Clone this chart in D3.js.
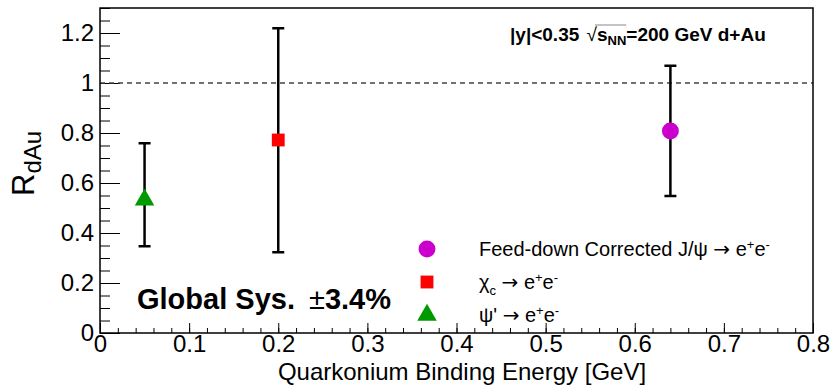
<!DOCTYPE html>
<html>
  <head>
    <meta charset="utf-8">
    <title>RdAu vs binding energy</title>
    <style>
      body { margin: 0; background: #fff; }
      svg { display: block; font-family: "Liberation Sans", Arial, sans-serif; }
      .frame { fill: none; stroke: #000; stroke-width: 1.5; }
      .axis path { display: none; }
      .axis line { stroke: #000; stroke-width: 1; }
      .axis text { font-size: 24px; fill: #000; font-family: "Liberation Sans", Arial, sans-serif; }
      .err { stroke: #000; stroke-width: 2.5; }
      .arr { font-family: "DejaVu Sans", sans-serif; }
    </style>
    <script src="https://cdnjs.cloudflare.com/ajax/libs/d3/7.8.5/d3.min.js"></script>
  </head>
  <body>
    <svg id="chart" width="830" height="388"></svg>
    <script>
      // data
      var names = ["jpsi", "chic", "psip"];
      var energy = [0.64, 0.2, 0.05];
      var rdau = [0.808, 0.772, 0.539];
      var errLow = [0.548, 0.323, 0.347];
      var errHigh = [1.069, 1.219, 0.759];
      var colors = ["#cc00cc", "#ff0000", "#009900"];

      var xTicks = [0, 0.1, 0.2, 0.3, 0.4, 0.5, 0.6, 0.7, 0.8];
      var yTicks = [0, 0.2, 0.4, 0.6, 0.8, 1, 1.2];

      var fLeft = 100, fRight = 813, fTop = 8, fBottom = 333;

      var svg = d3.select("#chart");

      var x = d3.scaleLinear().domain([0, 0.8]).range([fLeft, fRight]);
      var y = d3.scaleLinear().domain([0, 1.3]).range([fBottom, fTop]);

      var fmt = function(d) { return String(+d.toFixed(1)); };

      // minor ticks
      var xMinor = d3.range(0, 41).map(function(i) { return i * 0.02; });
      var yMinor = d3.range(0, 27).map(function(i) { return i * 0.05; });

      svg.append("g").attr("class", "axis")
         .attr("transform", "translate(0," + fBottom + ")")
         .call(d3.axisBottom(x).tickValues(xMinor).tickSizeInner(-5).tickSizeOuter(0).tickFormat(""));
      svg.append("g").attr("class", "axis")
         .attr("transform", "translate(0," + fBottom + ")")
         .call(d3.axisBottom(x).tickValues(xTicks).tickSizeInner(-10).tickSizeOuter(0).tickPadding(2).tickFormat(fmt));

      svg.append("g").attr("class", "axis")
         .attr("transform", "translate(" + fLeft + ",0)")
         .call(d3.axisLeft(y).tickValues(yMinor).tickSizeInner(-10).tickSizeOuter(0).tickFormat(""));
      svg.append("g").attr("class", "axis")
         .attr("transform", "translate(" + fLeft + ",0)")
         .call(d3.axisLeft(y).tickValues(yTicks).tickSizeInner(-20).tickSizeOuter(0).tickPadding(6).tickFormat(fmt));

      // dashed line at unity
      svg.append("line")
         .attr("x1", fLeft).attr("x2", fRight)
         .attr("y1", y(1)).attr("y2", y(1))
         .attr("stroke", "#444").attr("stroke-width", 1.5)
         .attr("stroke-dasharray", "5,4");

      svg.append("rect").attr("class", "frame")
         .attr("x", fLeft).attr("y", fTop)
         .attr("width", fRight - fLeft).attr("height", fBottom - fTop);

      // error bars
      var pts = svg.append("g");
      energy.forEach(function(e, i) {
        pts.append("line").attr("class", "err")
           .attr("x1", x(e)).attr("x2", x(e))
           .attr("y1", y(errLow[i])).attr("y2", y(errHigh[i]));
        [errLow[i], errHigh[i]].forEach(function(v) {
          pts.append("line").attr("class", "err")
             .attr("x1", x(e) - 6).attr("x2", x(e) + 6)
             .attr("y1", y(v)).attr("y2", y(v));
        });
      });

      var sym = {
        jpsi: d3.symbol().type(d3.symbolCircle).size(225),
        chic: d3.symbol().type(d3.symbolSquare).size(165),
        psip: d3.symbol().type(d3.symbolTriangle).size(165)
      };

      energy.forEach(function(e, i) {
        pts.append("path")
           .attr("d", sym[names[i]]())
           .attr("transform", "translate(" + x(e) + "," + (y(rdau[i]) + (names[i] == "psip" ? 1.5 : 0)) + ")")
           .attr("fill", colors[i]);
      });

      // axis titles
      svg.append("text")
         .attr("x", 462).attr("y", 380)
         .attr("text-anchor", "middle")
         .style("font-size", "24px")
         .text("Quarkonium Binding Energy [GeV]");

      var yt = svg.append("text")
         .attr("transform", "translate(34,196) rotate(-90)")
         .style("font-size", "31px");
      yt.append("tspan").text("R");
      yt.append("tspan").attr("dy", 7).style("font-size", "24px").text("dAu");

      // header text
      var hdr = svg.append("text")
         .attr("x", 510).attr("y", 41)
         .style("font-size", "19px").style("font-weight", "bold");
      hdr.append("tspan").text("|y|<0.35 ");
      hdr.append("tspan").style("font-weight", "normal").attr("dx", 2).text("\u221a");
      var sT = hdr.append("tspan").text("s");
      var nT = hdr.append("tspan").attr("dy", 4).style("font-size", "13px").text("NN");
      hdr.append("tspan").attr("dy", -4).text("=200 GeV d+Au");
      var b1 = sT.node().getBBox(), b2 = nT.node().getBBox();
      svg.append("line")
         .attr("x1", b1.x - 2).attr("x2", b2.x + b2.width)
         .attr("y1", b1.y + 1).attr("y2", b1.y + 1)
         .attr("stroke", "#888").attr("stroke-width", 1);

      var gs = svg.append("text")
         .attr("x", 137).attr("y", 309)
         .style("font-size", "29px").style("font-weight", "bold");
      gs.append("tspan").text("Global Sys.");
      gs.append("tspan").attr("dx", 14).style("font-weight", "normal").text("\u00b1");
      gs.append("tspan").text("3.4%");

      // legend
      var legText = [
        [["Feed-down Corrected J/\u03c8 ", 0], ["\u2192", 0], [" e", 0], ["+", -7], ["e", 7], ["-", -7]],
        [["\u03c7", 0], ["c", 6], [" ", -6], ["\u2192", 0], [" e", 0], ["+", -7], ["e", 7], ["-", -7]],
        [["\u03c8' ", 0], ["\u2192", 0], [" e", 0], ["+", -7], ["e", 7], ["-", -7]]
      ];
      var legY = [249, 282, 315];
      legText.forEach(function(parts, i) {
        svg.append("path")
           .attr("d", sym[names[i]]())
           .attr("transform", "translate(427," + legY[i] + ")")
           .attr("fill", colors[i]);
        var t = svg.append("text")
           .attr("x", 479).attr("y", legY[i] + 7)
           .style("font-size", "20px");
        parts.forEach(function(p) {
          var small = p[0] == "+" || p[0] == "-" || p[0] == "c";
          var ts = t.append("tspan").attr("dy", p[1])
           .style("font-size", small ? "13px" : "20px").text(p[0]);
          if (p[0] == "\u2192") ts.attr("class", "arr");
        });
      });
    </script>
  </body>
</html>
